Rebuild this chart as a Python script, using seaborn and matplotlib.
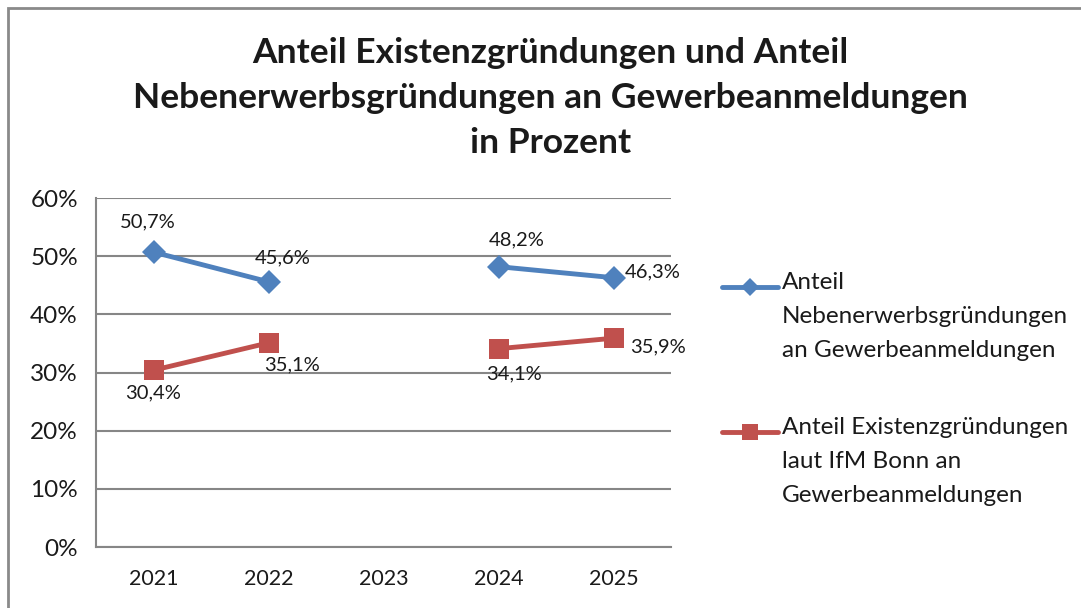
import numpy as np
import pandas as pd
import matplotlib
matplotlib.use("Agg")
import matplotlib.pyplot as plt
from matplotlib.lines import Line2D
from matplotlib.patches import Rectangle
import seaborn as sns

# data
jahre = ["2021", "2022", "2023", "2024", "2025"]
neben = [50.7, 45.6, np.nan, 48.2, 46.3]
existenz = [30.4, 35.1, np.nan, 34.1, 35.9]
serien = ["Anteil\nNebenerwerbsgründungen\nan Gewerbeanmeldungen",
          "Anteil Existenzgründungen\nlaut IfM Bonn an\nGewerbeanmeldungen"]
y_ticks = [0, 10, 20, 30, 40, 50, 60]

blau = "#4F81BD"
rot = "#C0504D"
grau = "#868686"
schrift = "#1a1a1a"

rows = []
for name, werte in zip(serien, [neben, existenz]):
    seg = 0
    for i, v in enumerate(werte):
        if np.isnan(v):
            seg += 1
            continue
        rows.append({"pos": i, "wert": v, "serie": name, "seg": seg})
df = pd.DataFrame(rows)

sns.set_style("white")
plt.rcParams["font.family"] = ["Lato", "DejaVu Sans"]

fig = plt.figure(figsize=(10.81, 6.08), dpi=100)
ax = fig.add_axes([0.0888, 0.1003, 0.532, 0.574])

sns.lineplot(data=df, x="pos", y="wert", hue="serie", style="serie",
             units="seg", estimator=None, palette=[blau, rot],
             markers=["D", "s"], dashes=False, linewidth=3.5,
             markersize=12, markeredgewidth=0, legend=False, ax=ax)
for ln in ax.lines:
    if ln.get_marker() == "s":
        ln.set_markersize(15)

# data labels (offsets in points)
offsets_blau = [(-4, 22), (10, 17), None, (13, 19), (28, 4)]
offsets_rot = [(0, -16), (17, -16), None, (11, -18), (32, -6)]
for werte, offs in [(neben, offsets_blau), (existenz, offsets_rot)]:
    for i, (v, o) in enumerate(zip(werte, offs)):
        if o is None or np.isnan(v):
            continue
        ax.annotate(f"{v:.1f}%".replace(".", ","), (i, v), xytext=o,
                    textcoords="offset points", ha="center", va="center",
                    fontsize=14.5, color=schrift)

ax.set_xlim(-0.5, 4.5)
ax.set_ylim(0, 60)
ax.set_yticks(y_ticks)
ax.set_yticklabels([f"{t}%" for t in y_ticks], fontsize=17.5, color=schrift)
ax.set_xticks(np.arange(-0.5, 5, 1))
ax.set_xticklabels([])
ax.set_xticks(range(len(jahre)), minor=True)
ax.set_xticklabels(jahre, minor=True, fontsize=15.5, color=schrift)
ax.tick_params(axis="x", which="major", direction="out", length=8, width=1.5, color=grau)
ax.tick_params(axis="x", which="minor", length=0, pad=16)
ax.tick_params(axis="y", direction="out", length=7, width=1.5, color=grau, pad=6)
ax.yaxis.grid(True, color=grau, linewidth=1.5)
ax.set_axisbelow(True)
ax.set_xlabel("")
ax.set_ylabel("")
for s in ["top", "right"]:
    ax.spines[s].set_visible(False)
for s in ["left", "bottom"]:
    ax.spines[s].set_color(grau)
    ax.spines[s].set_linewidth(1.5)

# legend: handle next to the first line of each label
W, H = 1081, 608
for name, farbe, marker, ms, y in [(serien[0], blau, "D", 9, 287),
                                   (serien[1], rot, "s", 12, 432)]:
    fy = 1 - y / H
    fig.add_artist(Line2D([722 / W, 778 / W], [fy, fy], color=farbe,
                          linewidth=3.5, transform=fig.transFigure))
    fig.add_artist(Line2D([750 / W], [fy], color=farbe, marker=marker,
                          markersize=ms, markeredgewidth=0,
                          transform=fig.transFigure))
    fig.text(782 / W, 1 - (y - 15) / H, name, ha="left", va="top",
             fontsize=17.5, linespacing=1.75, color=schrift)

fig.text(0.509, 0.839,
         "Anteil Existenzgründungen und Anteil\nNebenerwerbsgründungen an Gewerbeanmeldungen\nin Prozent",
         ha="center", va="center", fontsize=25.5, fontweight="bold",
         linespacing=1.5, color=schrift)

fig.add_artist(Rectangle((8 / W, -0.2), 1.2, 1.2 - 8 / H,
                         transform=fig.transFigure, fill=False,
                         edgecolor="#8a8a8a", linewidth=2, clip_on=False))

fig.savefig("out.png", dpi=100)
